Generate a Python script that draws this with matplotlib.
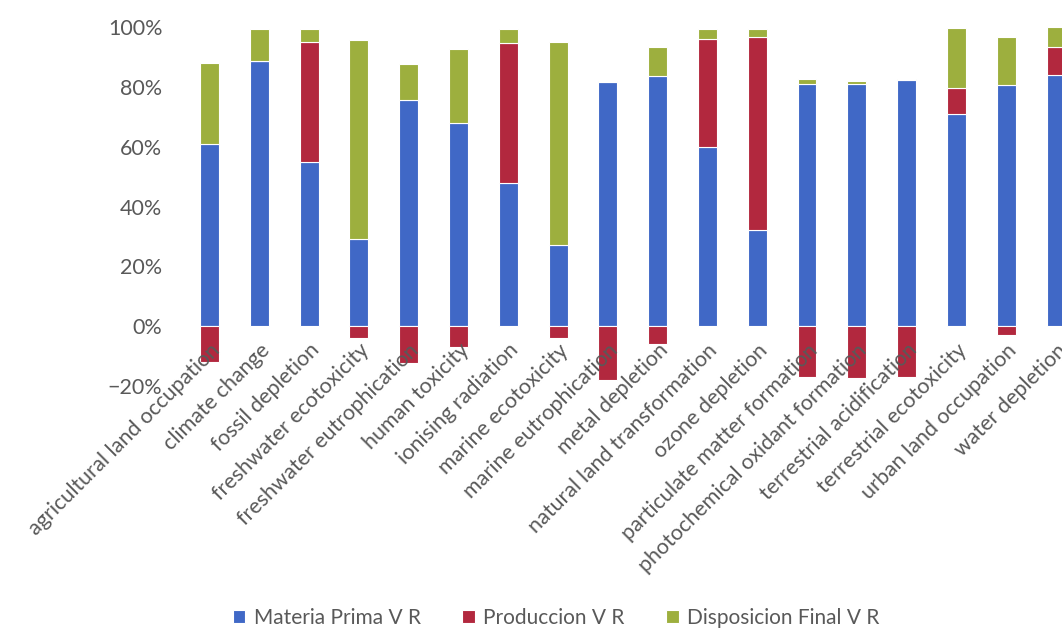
import numpy as np
import matplotlib
matplotlib.use('Agg')
import matplotlib.pyplot as plt
from matplotlib.ticker import PercentFormatter

plt.rcParams['font.family'] = ['Lato', 'DejaVu Sans']

categorias = ['agricultural land occupation', 'climate change', 'fossil depletion',
              'freshwater ecotoxicity', 'freshwater eutrophication', 'human toxicity',
              'ionising radiation', 'marine ecotoxicity', 'marine eutrophication',
              'metal depletion', 'natural land transformation', 'ozone depletion',
              'particulate matter formation', 'photochemical oxidant formation',
              'terrestrial acidification', 'terrestrial ecotoxicity',
              'urban land occupation', 'water depletion']

# porcentajes por etapa (negativo = impacto evitado)
materia_prima = [61, 88.5, 55, 29, 75.5, 68, 48, 27, 81.7, 83.5, 60, 32, 81, 81, 82.3, 71, 80.5, 84]
produccion = [-12, 0, 40, -4, -12.3, -7, 46.5, -4, -18, -6, 36, 64.7, -17, -17.4, -17, 8.7, -3, 9.4]
disposicion = [27, 11, 4.5, 66.5, 12.2, 24.5, 5, 68, 0.4, 9.8, 3.5, 2.7, 1.5, 1, 0.3, 20, 16, 6.5]

serie_nombres = ['Materia Prima V R', 'Produccion V R', 'Disposicion Final V R']
colores = ['#4068C6', '#B2283E', '#9DAF3E']
gris = '#595959'

mp = np.array(materia_prima) / 100
pr = np.array(produccion) / 100
dp = np.array(disposicion) / 100
x = np.arange(len(categorias))

fig = plt.figure(figsize=(10.62, 6.3), dpi=100)
ax = fig.add_axes([0.1738, 0.3873, 0.844, 0.5698])

ancho = 0.38
kw = dict(width=ancho, edgecolor='white', linewidth=0.8)
ax.bar(x, mp, color=colores[0], label=serie_nombres[0], **kw)
ax.bar(x, pr, bottom=np.where(pr >= 0, mp, 0), color=colores[1], label=serie_nombres[1], **kw)
ax.bar(x, dp, bottom=mp + np.clip(pr, 0, None), color=colores[2], label=serie_nombres[2], **kw)

ax.set_xlim(-0.5, len(categorias) - 0.5)
ax.set_ylim(-0.2, 1.0)
ax.set_yticks(np.arange(-0.2, 1.01, 0.2))
ax.yaxis.set_major_formatter(PercentFormatter(1.0, decimals=0))
ax.tick_params(axis='y', length=0, pad=16, labelsize=15.5, labelcolor=gris)

for s in ['top', 'right', 'left']:
    ax.spines[s].set_visible(False)
ax.spines['bottom'].set_position(('data', 0))
ax.spines['bottom'].set_color('none')

ax.set_xticks(x)
ax.set_xticklabels(categorias, rotation=45, ha='right', rotation_mode='anchor')
ax.tick_params(axis='x', length=0, pad=10, labelsize=15.5, labelcolor=gris)

fig.legend(loc='center', bbox_to_anchor=(556 / 1062, 12 / 630), ncol=3, frameon=False,
           fontsize=15, labelcolor=gris, handlelength=0.6, handleheight=0.6,
           handletextpad=0.4, columnspacing=2.0)

fig.savefig('out.png', dpi=100)
